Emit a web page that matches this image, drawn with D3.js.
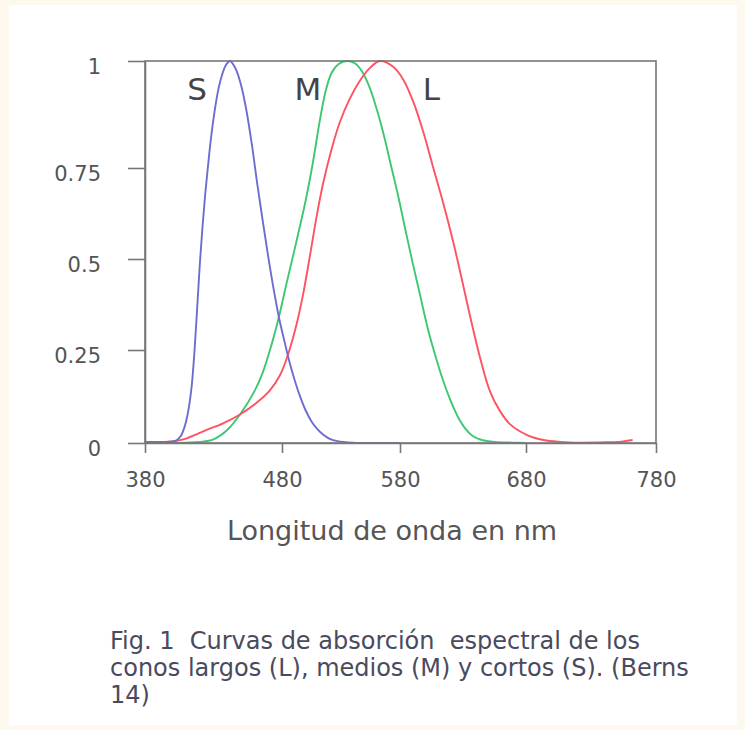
<!DOCTYPE html>
<html>
<head>
<meta charset="utf-8">
<script src="https://cdn.jsdelivr.net/npm/d3@7"></script>
<style>
  html, body { margin: 0; padding: 0; background: #fdf9ee; }
  svg { display: block; }
  .caption { white-space: pre; }
</style>
</head>
<body>
<div class="chart"></div>
<script>
// Tick values
const xTicks = [380, 480, 580, 680, 780];
const yTicks = [0, 0.25, 0.5, 0.75, 1];
const yTickLabels = ["0", "0.25", "0.5", "0.75", "1"];

// S cone (short)
const sWavelength = [380, 395, 400, 403, 406, 408, 410, 412, 414, 416, 418, 420, 422, 424, 426, 428, 430, 433, 436, 439, 442, 446, 450, 454, 458, 462, 466, 470, 474, 478, 482, 486, 490, 495, 500, 505, 510, 515, 520, 527, 540, 560, 580];
const sValues = [0.003, 0.003, 0.004, 0.007, 0.018, 0.034, 0.058, 0.095, 0.15, 0.24, 0.36, 0.485, 0.59, 0.68, 0.755, 0.815, 0.865, 0.925, 0.965, 0.99, 1.0, 0.983, 0.945, 0.885, 0.805, 0.705, 0.603, 0.505, 0.415, 0.335, 0.275, 0.222, 0.177, 0.128, 0.088, 0.058, 0.037, 0.022, 0.012, 0.005, 0.001, 0.0, 0.0];

// M cone (medium)
const mWavelength = [380, 400, 410, 420, 430, 440, 450, 460, 466, 472, 478, 484, 492, 500, 506, 512, 517, 522, 528, 535, 542, 548, 554, 560, 566, 572, 578, 584, 590, 596, 602, 608, 614, 620, 626, 632, 638, 645, 655, 670, 680];
const mValues = [0.0, 0.0, 0.001, 0.003, 0.01, 0.035, 0.08, 0.14, 0.19, 0.26, 0.345, 0.435, 0.545, 0.66, 0.76, 0.86, 0.93, 0.972, 0.993, 1.0, 0.994, 0.975, 0.94, 0.89, 0.83, 0.76, 0.68, 0.585, 0.49, 0.4, 0.31, 0.235, 0.17, 0.115, 0.07, 0.038, 0.018, 0.008, 0.003, 0.001, 0.0];

// L cone (long)
const lWavelength = [380, 400, 410, 418, 425, 437, 449, 461, 471, 478.5, 485, 492.5, 498, 504, 509.5, 515, 522, 529, 537.5, 546, 554.5, 563, 574, 582.5, 590.5, 598.5, 606.5, 614.5, 622.5, 630, 635.5, 643.5, 651.5, 659.5, 667.5, 680.5, 693.5, 706.5, 722, 742, 753, 762];
const lValues = [0.002, 0.004, 0.012, 0.024, 0.035, 0.053, 0.076, 0.107, 0.141, 0.182, 0.237, 0.323, 0.405, 0.515, 0.62, 0.71, 0.794, 0.857, 0.912, 0.954, 0.984, 1.0, 0.987, 0.957, 0.905, 0.834, 0.749, 0.651, 0.543, 0.43, 0.345, 0.23, 0.138, 0.085, 0.05, 0.022, 0.008, 0.003, 0.001, 0.002, 0.0035, 0.008];

// Curve labels
const curveNames = ["S", "M", "L"];
const curveLabelWavelength = [418, 502, 605];
const curveLabelValue = 0.91;

const xTitle = "Longitud de onda en nm";
const captionLines = [
  "Fig. 1  Curvas de absorción  espectral de los",
  "conos largos (L), medios (M) y cortos (S). (Berns",
  "14)"
];

function drawChart() {
  const W = 745, H = 730;
  const margin = { top: 61, left: 145 };
  const width = 511;
  const height = 382;

  const svg = d3
    .select(".chart")
    .append("svg")
    .attr("width", W)
    .attr("height", H);

  // white page panel
  svg.append("rect")
    .attr("x", 9).attr("y", 5)
    .attr("width", 728).attr("height", 720)
    .attr("fill", "#ffffff");

  const g = svg.append("g")
    .attr("transform", `translate(${margin.left},${margin.top})`);

  // the source axes are not evenly spaced, so use piecewise scales
  const x = d3.scaleLinear()
    .domain(xTicks)
    .range([0, 137, 255, 381, width]);

  const y = d3.scaleLinear()
    .domain(yTicks)
    .range([height, 289, 198, 107, 0]);

  const series = [
    { name: "M", wl: mWavelength, v: mValues, color: "#3cc872" },
    { name: "L", wl: lWavelength, v: lValues, color: "#ff5262" },
    { name: "S", wl: sWavelength, v: sValues, color: "#6d6dd0" }
  ];

  const line = d3.line()
    .x((d) => x(d[0]))
    .y((d) => y(d[1]))
    .curve(d3.curveCatmullRom.alpha(0.5));

  series.forEach((s) => {
    g.append("path")
      .datum(d3.zip(s.wl, s.v))
      .attr("fill", "none")
      .attr("stroke", s.color)
      .attr("stroke-width", 1.9)
      .attr("d", line);
  });

  // frame
  g.append("rect")
    .attr("width", width)
    .attr("height", height)
    .attr("fill", "none")
    .attr("stroke", "#777")
    .attr("stroke-width", 1.6);

  // Axes
  const xAxis = g.append("g")
    .attr("transform", `translate(0,${height})`)
    .call(d3.axisBottom(x).tickValues(xTicks).tickSize(10).tickSizeOuter(0).tickPadding(19));

  const yAxis = g.append("g")
    .call(
      d3.axisLeft(y)
        .tickValues(yTicks)
        .tickSize(17)
        .tickSizeOuter(0)
        .tickPadding(27)
        .tickFormat((d, i) => yTickLabels[i])
    );

  [xAxis, yAxis].forEach((a) => {
    a.selectAll("path, line").attr("stroke", "#777").attr("stroke-width", 1.6);
    a.selectAll("text")
      .attr("fill", "#555")
      .attr("font-family", "'DejaVu Sans', Verdana, sans-serif")
      .attr("font-size", "21px");
  });
  yAxis.selectAll("text").attr("dy", "0.6em");

  // S / M / L labels
  g.selectAll(".curve-label")
    .data(curveNames)
    .enter()
    .append("text")
    .attr("class", "curve-label")
    .attr("x", (d, i) => x(curveLabelWavelength[i]))
    .attr("y", y(curveLabelValue))
    .attr("text-anchor", "middle")
    .attr("font-family", "'DejaVu Sans', Verdana, sans-serif")
    .attr("font-size", "31px")
    .attr("fill", "#444")
    .text((d) => d);

  // Axis title
  g.append("text")
    .attr("x", 247)
    .attr("y", height + 97)
    .attr("text-anchor", "middle")
    .attr("font-family", "'DejaVu Sans', Verdana, sans-serif")
    .attr("font-size", "27px")
    .attr("fill", "#555")
    .text(xTitle);

  // Caption
  svg.selectAll(".caption")
    .data(captionLines)
    .enter()
    .append("text")
    .attr("class", "caption")
    .attr("x", 110)
    .attr("y", (d, i) => 649 + i * 27)
    .attr("font-family", "'DejaVu Sans', Verdana, sans-serif")
    .attr("font-size", "24px")
    .attr("fill", "#4a4a5e")
    .text((d) => d);
}

drawChart();
</script>
</body>
</html>
